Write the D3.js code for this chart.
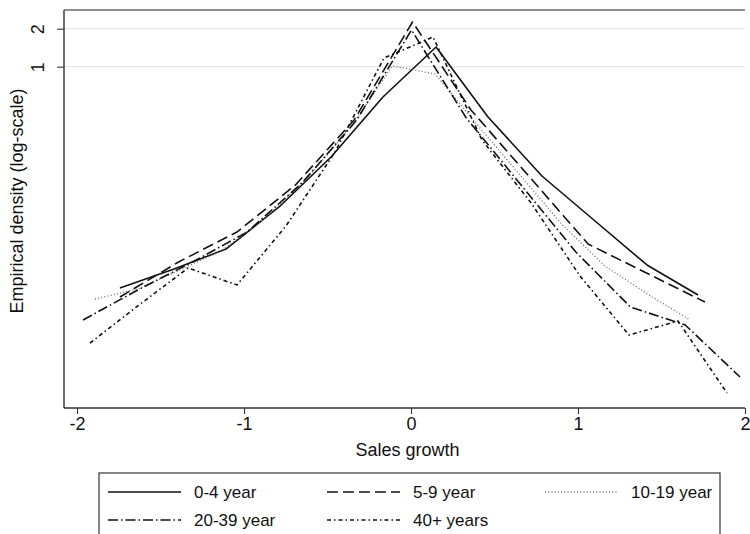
<!DOCTYPE html>
<html>
<head>
<meta charset="utf-8">
<script src="https://cdn.jsdelivr.net/npm/d3@7"></script>
<style>
  body { margin: 0; background: #fff; }
  svg { display: block; font-family: "Liberation Sans", Arial, sans-serif; }
</style>
</head>
<body>
<div class="chart"></div>
<script>
// sales growth bins (x) and empirical density (y) per age group
const x04 = [-1.743, -1.419, -1.108, -0.790, -0.479, -0.168, 0.150, 0.461, 0.784, 1.102, 1.413, 1.719];
const y04 = [0.01764, 0.02494, 0.03592, 0.07731, 0.1925, 0.5752, 1.432, 0.3995, 0.1361, 0.05989, 0.02684, 0.01552];

const x59 = [-1.743, -1.392, -1.042, -0.692, -0.341, 0.009, 0.359, 0.710, 1.060, 1.410, 1.760];
const y59 = [0.01497, 0.02835, 0.04899, 0.1155, 0.3781, 2.261, 0.4538, 0.1337, 0.03937, 0.02319, 0.01366];

const x1019 = [-1.892, -1.638, -1.383, -1.129, -0.874, -0.620, -0.365, -0.111, 0.144, 0.398, 0.653, 0.907, 1.162, 1.416, 1.671];
const y1019 = [0.01443, 0.01732, 0.02449, 0.03527, 0.06327, 0.1312, 0.3268, 1.013, 0.8755, 0.3451, 0.1386, 0.05567, 0.02635, 0.01581, 0.00984];

const x2039 = [-1.964, -1.636, -1.308, -0.981, -0.653, -0.325, 0.003, 0.331, 0.659, 0.987, 1.314, 1.642, 1.970];
const y2039 = [0.00984, 0.01701, 0.02835, 0.04899, 0.1198, 0.3781, 1.954, 0.3923, 0.1155, 0.03401, 0.01247, 0.00898, 0.003477];

const x40 = [-1.922, -1.629, -1.335, -1.042, -0.749, -0.455, -0.162, 0.132, 0.425, 0.719, 1.012, 1.305, 1.599, 1.892];
const y40 = [0.006465, 0.01293, 0.02540, 0.01863, 0.05465, 0.2109, 1.172, 1.719, 0.2625, 0.08318, 0.02196, 0.007482, 0.009658, 0.002597];

const seriesNames = ["0-4 year", "5-9 year", "10-19 year", "20-39 year", "40+ years"];
const xTicks = [-2, -1, 0, 1, 2];
const yTicks = [1, 2];

const width = 750, height = 534;
const plot = {left: 64, right: 745, top: 10, bottom: 408};

// line look for each group (stata-ish patterns)
const styles = [
  {dash: null, color: "#111", w: 1.6},
  {dash: "11,5", color: "#111", w: 1.6},
  {dash: "1,2.2", color: "#666", w: 1.3},
  {dash: "10,3,1.5,3", color: "#111", w: 1.6},
  {dash: "4,3,1.5,3", color: "#111", w: 1.6}
];

const data = [[x04, y04], [x59, y59], [x1019, y1019], [x2039, y2039], [x40, y40]]
  .map(([xs, ys]) => xs.map((v, i) => [v, ys[i]]));

const svg = d3.select(".chart").append("svg")
  .attr("width", width)
  .attr("height", height);

const x = d3.scaleLinear().domain([-2.078, 2.0]).range([plot.left, plot.right]);
const y = d3.scaleLog().domain([0.001975, 2.813]).range([plot.bottom, plot.top]);

// plain hyphen for negatives, as stata prints them
const fmt = d => String(d);

// grid lines at labelled ticks
svg.append("g").selectAll("line").data(yTicks).enter().append("line")
  .attr("x1", plot.left).attr("x2", plot.right)
  .attr("y1", d => y(d)).attr("y2", d => y(d))
  .attr("stroke", "#e6e6e6").attr("stroke-width", 1.3);

// top border
svg.append("line")
  .attr("x1", plot.left).attr("x2", plot.right).attr("y1", plot.top).attr("y2", plot.top)
  .attr("stroke", "#222").attr("stroke-width", 1.2);

const xAxis = svg.append("g")
  .attr("transform", `translate(0,${plot.bottom})`)
  .call(d3.axisBottom(x).tickValues(xTicks).tickSize(6).tickPadding(3).tickFormat(fmt));
xAxis.select(".domain").attr("stroke", "#333").attr("stroke-width", 1.3)
  .attr("d", `M${plot.left},0H${plot.right}`);
xAxis.selectAll(".tick line").attr("stroke", "#333").attr("stroke-width", 1.1);
xAxis.selectAll("text").attr("font-size", 18).attr("fill", "#111")
  .attr("font-family", "Liberation Sans, Arial, sans-serif");

const yAxis = svg.append("g")
  .attr("transform", `translate(${plot.left},0)`)
  .call(d3.axisLeft(y).tickValues(yTicks).tickSize(7).tickFormat(fmt));
yAxis.select(".domain").attr("stroke", "#222").attr("stroke-width", 1.3)
  .attr("d", `M0,${plot.top}V${plot.bottom}`);
yAxis.selectAll(".tick line").attr("stroke", "#333").attr("stroke-width", 1.1);
yAxis.selectAll(".tick text")
  .attr("font-size", 18).attr("fill", "#111")
  .attr("font-family", "Liberation Sans, Arial, sans-serif")
  .attr("x", null).attr("dy", null)
  .attr("text-anchor", "middle")
  .attr("dominant-baseline", "central")
  .attr("transform", "translate(-26,0) rotate(-90)");

// axis titles
svg.append("text")
  .attr("x", (plot.left + plot.right) / 2 + 3).attr("y", 456)
  .attr("text-anchor", "middle").attr("font-size", 18).attr("fill", "#111")
  .text("Sales growth");
svg.append("text")
  .attr("transform", "translate(23,201) rotate(-90)")
  .attr("text-anchor", "middle").attr("font-size", 18).attr("fill", "#111")
  .text("Empirical density (log-scale)");

// density lines
const line = d3.line().x(d => x(d[0])).y(d => y(d[1]));
svg.append("g").selectAll("path").data(data).enter().append("path")
  .attr("d", line)
  .attr("fill", "none")
  .attr("stroke", (d, i) => styles[i].color)
  .attr("stroke-width", (d, i) => styles[i].w)
  .attr("stroke-dasharray", (d, i) => styles[i].dash)
  .attr("stroke-linejoin", "round");

// legend box, runs off the bottom edge like the original
const legend = svg.append("g");
legend.append("rect")
  .attr("x", 99).attr("y", 473).attr("width", 621).attr("height", 80)
  .attr("fill", "#fff").attr("stroke", "#333").attr("stroke-width", 1.2);

const cols = [108, 327, 545];
const rows = [492, 520];
seriesNames.forEach((name, i) => {
  const cx = cols[i % 3], cy = rows[Math.floor(i / 3)];
  legend.append("line")
    .attr("x1", cx).attr("x2", cx + 73).attr("y1", cy).attr("y2", cy)
    .attr("stroke", styles[i].color).attr("stroke-width", styles[i].w)
    .attr("stroke-dasharray", styles[i].dash);
  legend.append("text")
    .attr("x", cx + 86).attr("y", cy).attr("dy", "0.36em")
    .attr("font-size", 17).attr("fill", "#111")
    .text(name);
});
</script>
</body>
</html>
